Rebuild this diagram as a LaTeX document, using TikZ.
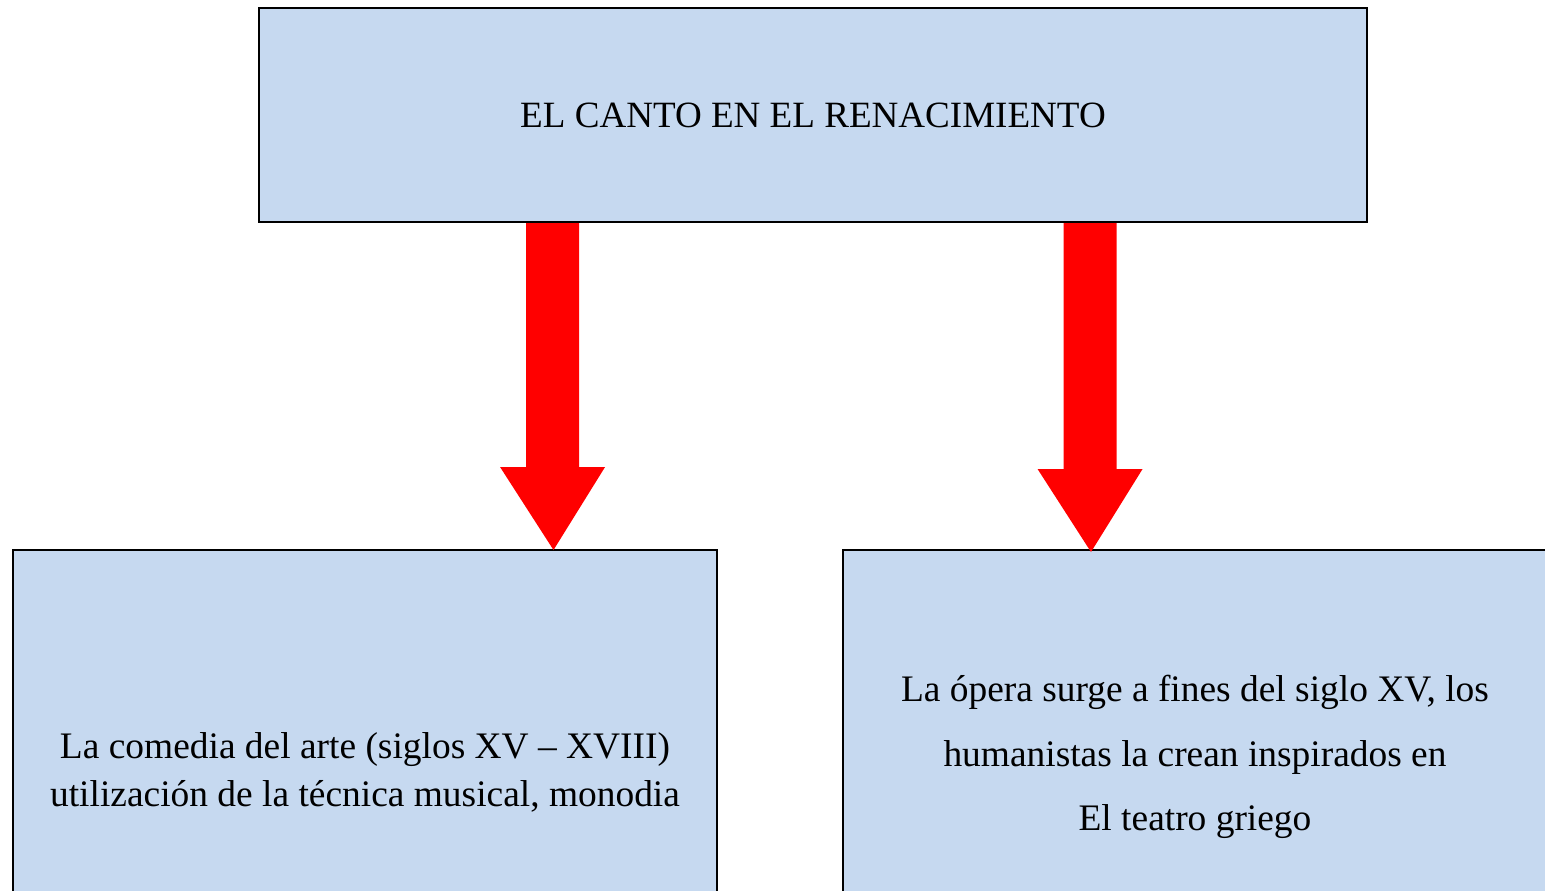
\documentclass[tikz,border=0pt]{standalone}
\usepackage{fontspec}
\setmainfont{Liberation Serif}
\usetikzlibrary{calc}
\definecolor{boxblue}{HTML}{C6D9F0}
\tikzstyle{block}=[rectangle,
    draw=black,
    line width=1.2pt,
    fill=boxblue,
    align=center]
\tikzstyle{bigarrow}=[fill=red]
% thick red arrow from #1 down to #2
\newcommand{\redarrow}[2]{%
  \fill[bigarrow] let \p1=(#1), \p2=(#2) in
    (\x1-0.53cm,\y1) -- (\x1+0.53cm,\y1) -- (\x1+0.53cm,\y2+1.66cm)
    -- (\x1+1.05cm,\y2+1.66cm) -- (\x2,\y2) -- (\x1-1.05cm,\y2+1.66cm)
    -- (\x1-0.53cm,\y2+1.66cm) -- cycle;}

\begin{document}
\begin{tikzpicture}[x=0.02cm,y=-0.02cm]
    \useasboundingbox (0,0) rectangle (1545,890);
    \clip (0,0) rectangle (1545,890);
    \node (title) [block, minimum width=22.16cm, minimum height=4.28cm,
        font=\fontsize{21.1}{26}\selectfont] at (813,115) {EL CANTO EN EL RENACIMIENTO};
    \node (comedia) [block, anchor=north west, minimum width=14.08cm, minimum height=8.88cm,
        font=\fontsize{21.3}{27.2}\selectfont] at (12,549)
        {La comedia del arte (siglos XV – XVIII)\\utilización de la técnica musical, monodia};
    \node (opera) [block, anchor=north west, minimum width=14.08cm, minimum height=8.28cm,
        font=\fontsize{21.3}{36.6}\selectfont] at (842,549)
        {La ópera surge a fines del siglo XV, los\\humanistas la crean inspirados en\\El teatro griego};
    \redarrow{$(title.south west)+(294.5,0)$}{$(comedia.north west)+(541.5,1)$}
    \redarrow{$(title.south west)+(832,0)$}{$(opera.north west)+(249,3)$}
\end{tikzpicture}
\end{document}
